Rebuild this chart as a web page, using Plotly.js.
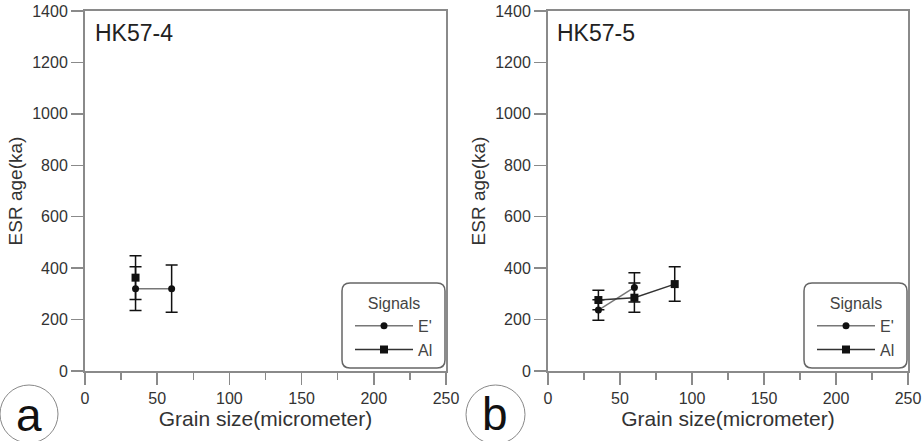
<!DOCTYPE html>
<html>
<head>
<meta charset="utf-8">
<script src="https://cdn.plot.ly/plotly-3.0.1.min.js"></script>
<style>html,body{margin:0;padding:0;background:#fff;}#chart{width:923px;height:441px;}</style>
</head>
<body>
<div id="chart"></div>
<script>
// ---- Data ----
// Panel a: HK57-4
const aLabel = "HK57-4";
const aE_x = [35, 60];
const aE_y = [320, 320];
const aE_err = [85, 92];
const aAl_x = [35];
const aAl_y = [363];
const aAl_err = [85];
// Panel b: HK57-5
const bLabel = "HK57-5";
const bE_x = [35, 60];
const bE_y = [237, 325];
const bE_err = [40, 57];
const bAl_x = [35, 60, 88];
const bAl_y = [276, 285, 338];
const bAl_err = [38, 57, 67];
const seriesNames = ["E'", "Al"];
const xTicks = [0, 50, 100, 150, 200, 250];
const yTicks = [0, 200, 400, 600, 800, 1000, 1200, 1400];

// ---- Layout helpers ----
const W = 923, H = 441;
const px = x => x / W;
const py = y => 1 - y / H;
const FONT = "Liberation Sans, Arial, sans-serif";

function mkTrace(x, y, err, name, xa, ya, lg, sym, lineColor, showleg) {
  return {
    type: 'scatter', mode: 'lines+markers', x: x, y: y, name: name,
    xaxis: xa, yaxis: ya, legend: lg, showlegend: showleg,
    line: {color: lineColor, width: 1.5},
    marker: {color: '#111', symbol: sym, size: sym === 'square' ? 8 : 7},
    error_y: {type: 'data', array: err, visible: true, color: '#111', thickness: 1.5, width: 6}
  };
}

const data = [
  mkTrace(aE_x, aE_y, aE_err, seriesNames[0], 'x', 'y', 'legend', 'circle', '#777', true),
  mkTrace(aAl_x, aAl_y, aAl_err, seriesNames[1], 'x', 'y', 'legend', 'square', '#333', true),
  mkTrace(bE_x, bE_y, bE_err, seriesNames[0], 'x2', 'y2', 'legend2', 'circle', '#777', true),
  mkTrace(bAl_x, bAl_y, bAl_err, seriesNames[1], 'x2', 'y2', 'legend2', 'square', '#333', true)
];

function xAxis(domain, anchor) {
  return {
    domain: domain, anchor: anchor, range: [0, 250], autorange: false,
    tickvals: xTicks, ticktext: xTicks.map(String),
    ticks: 'outside', ticklen: 12, tickwidth: 1.5, tickcolor: '#8a8a8a',
    minor: {ticks: 'outside', ticklen: 7, tickwidth: 1.5, tickcolor: '#8a8a8a', dtick: 25, showgrid: false},
    showline: true, linecolor: '#8a8a8a', linewidth: 2, mirror: true,
    showgrid: false, zeroline: false,
    tickfont: {family: FONT, size: 16, color: '#333'},
    title: {text: 'Grain size(micrometer)', font: {family: FONT, size: 21, color: '#333'}, standoff: 4},
    automargin: false
  };
}
function yAxis(domain, anchor) {
  return {
    domain: domain, anchor: anchor, range: [0, 1400], autorange: false,
    tickvals: yTicks, ticktext: yTicks.map(String),
    ticks: 'outside', ticklen: 12, tickwidth: 1.5, tickcolor: '#8a8a8a',
    showline: true, linecolor: '#8a8a8a', linewidth: 2, mirror: true,
    showgrid: false, zeroline: false,
    tickfont: {family: FONT, size: 16, color: '#333'},
    title: {text: 'ESR age(ka)', font: {family: FONT, size: 19, color: '#333'}, standoff: 5},
    automargin: false
  };
}

function roundRect(x0, y0, x1, y1, r) {
  const P = (x, y) => px(x).toFixed(5) + ',' + py(y).toFixed(5);
  return 'M' + P(x0 + r, y0) + ' L' + P(x1 - r, y0) + ' Q' + P(x1, y0) + ' ' + P(x1, y0 + r) +
    ' L' + P(x1, y1 - r) + ' Q' + P(x1, y1) + ' ' + P(x1 - r, y1) +
    ' L' + P(x0 + r, y1) + ' Q' + P(x0, y1) + ' ' + P(x0, y1 - r) +
    ' L' + P(x0, y0 + r) + ' Q' + P(x0, y0) + ' ' + P(x0 + r, y0) + ' Z';
}

function legendDef(xpx) {
  return {
    x: px(xpx), xanchor: 'left', y: py(288), yanchor: 'top',
    bgcolor: 'rgba(0,0,0,0)', borderwidth: 0,
    font: {family: FONT, size: 16, color: '#444'},
    title: {text: 'Signals', side: 'top center', font: {family: FONT, size: 16, color: '#444'}},
    itemwidth: 58, tracegroupgap: 0
  };
}

const yDom = [py(371), py(11)];
const layout = {
  width: W, height: H,
  margin: {l: 0, r: 0, t: 0, b: 0},
  paper_bgcolor: '#fff', plot_bgcolor: '#fff',
  showlegend: true,
  xaxis: xAxis([px(85), px(446)], 'y'),
  yaxis: yAxis(yDom, 'x'),
  xaxis2: xAxis([px(548), px(908)], 'y2'),
  yaxis2: yAxis(yDom, 'x2'),
  legend: legendDef(350),
  legend2: legendDef(812),
  shapes: [
    {type: 'path', xref: 'paper', yref: 'paper', path: roundRect(342, 283, 445, 368, 8), line: {color: '#666', width: 1.5}},
    {type: 'path', xref: 'paper', yref: 'paper', path: roundRect(804, 283, 907, 368, 8), line: {color: '#666', width: 1.5}},
    {type: 'circle', xref: 'paper', yref: 'paper', x0: px(0), x1: px(58), y0: py(385), y1: py(443), line: {color: '#888', width: 1}},
    {type: 'circle', xref: 'paper', yref: 'paper', x0: px(466), x1: px(525), y0: py(385), y1: py(444), line: {color: '#888', width: 1}}
  ],
  annotations: [
    {xref: 'paper', yref: 'paper', x: px(93), y: py(33), xanchor: 'left', yanchor: 'middle', showarrow: false, text: aLabel, font: {family: FONT, size: 23, color: '#222'}},
    {xref: 'paper', yref: 'paper', x: px(555), y: py(33), xanchor: 'left', yanchor: 'middle', showarrow: false, text: bLabel, font: {family: FONT, size: 23, color: '#222'}},
    {xref: 'paper', yref: 'paper', x: px(29), y: py(415), xanchor: 'center', yanchor: 'middle', showarrow: false, text: 'a', font: {family: FONT, size: 46, color: '#111'}},
    {xref: 'paper', yref: 'paper', x: px(495), y: py(414), xanchor: 'center', yanchor: 'middle', showarrow: false, text: 'b', font: {family: FONT, size: 46, color: '#111'}}
  ]
};

Plotly.newPlot('chart', data, layout, {displayModeBar: false, staticPlot: true});
</script>
</body>
</html>
